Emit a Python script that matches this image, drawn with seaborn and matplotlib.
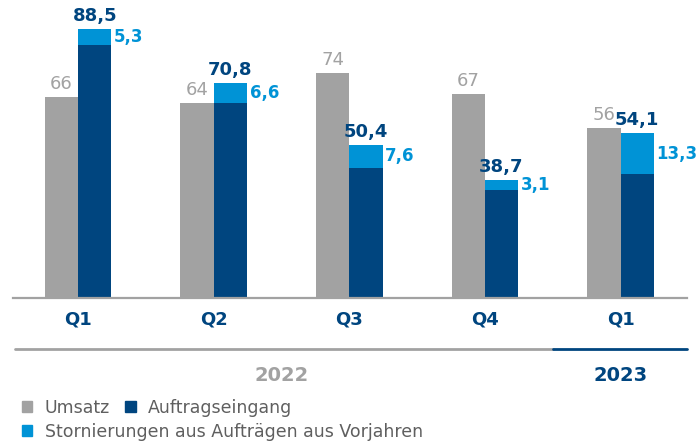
import pandas as pd
import matplotlib
matplotlib.use("Agg")
import matplotlib.pyplot as plt
import matplotlib.transforms as mtransforms
from matplotlib.patches import Patch
import seaborn as sns

sns.set_style("white")
plt.rcParams['font.family'] = ['DejaVu Sans']

# data
periods = ['Q1 2022', 'Q2 2022', 'Q3 2022', 'Q4 2022', 'Q1 2023']
quarter_labels = ['Q1', 'Q2', 'Q3', 'Q4', 'Q1']
umsatz = [66, 64, 74, 67, 56]
auftrag_total = [88.5, 70.8, 50.4, 38.7, 54.1]
stornierungen = [5.3, 6.6, 7.6, 3.1, 13.3]
years = ['2022', '2023']

GRAY = '#a2a2a2'
DARK = '#00457f'
LIGHT = '#0093d6'
LEGEND_TXT = '#5f5f5f'


def fmt(v):
    return f"{v:.1f}".replace('.', ',')


auftrag_only = [t - s for t, s in zip(auftrag_total, stornierungen)]

df_total = pd.DataFrame({
    'period': periods * 2,
    'kind': ['Umsatz'] * 5 + ['Auftrag'] * 5,
    'value': umsatz + auftrag_total,
})
df_dark = pd.DataFrame({
    'period': periods * 2,
    'kind': ['Umsatz'] * 5 + ['Auftrag'] * 5,
    'value': umsatz + auftrag_only,
})

fig = plt.figure(figsize=(6.99, 4.44), dpi=100)
ax = fig.add_axes([13 / 699, 146 / 444, 674 / 699, 298 / 444])

# light blue = whole order intake, dark blue drawn over it
sns.barplot(data=df_total, x='period', y='value', hue='kind', order=periods,
            hue_order=['Umsatz', 'Auftrag'], palette={'Umsatz': GRAY, 'Auftrag': LIGHT},
            width=0.49, gap=0, legend=False, ax=ax, saturation=1, linewidth=0)
sns.barplot(data=df_dark, x='period', y='value', hue='kind', order=periods,
            hue_order=['Umsatz', 'Auftrag'], palette={'Umsatz': GRAY, 'Auftrag': DARK},
            width=0.49, gap=0, legend=False, ax=ax, saturation=1, linewidth=0)

ax.set_xlim(-0.48, 4.49)
ax.set_ylim(0, 98)
ax.set_xlabel('')
ax.set_ylabel('')
ax.set_yticks([])
ax.set_xticks(range(len(periods)))
ax.set_xticklabels(quarter_labels, fontsize=13, fontweight='bold', color=DARK)
ax.tick_params(axis='x', length=0, pad=9)
for s in ['top', 'right', 'left']:
    ax.spines[s].set_visible(False)
ax.spines['bottom'].set_color(GRAY)
ax.spines['bottom'].set_linewidth(1.6)

# value labels
ax.bar_label(ax.containers[0], labels=[str(v) for v in umsatz], padding=3,
             fontsize=13, color=GRAY)
ax.bar_label(ax.containers[1], labels=[fmt(v) for v in auftrag_total], padding=3,
             fontsize=13, fontweight='bold', color=DARK)
for p, dark, st in zip(ax.containers[1], auftrag_only, stornierungen):
    ax.annotate(fmt(st), (p.get_x() + p.get_width(), dark + st / 2),
                xytext=(2, 0), textcoords='offset points', ha='left', va='center',
                fontsize=12, fontweight='bold', color=LIGHT)

# year separator lines and labels
trans = mtransforms.blended_transform_factory(ax.transData, ax.transAxes)
ax.plot([-0.465, 3.5], [-0.17, -0.17], transform=trans, clip_on=False, color=GRAY, lw=2)
ax.plot([3.5, 4.49], [-0.17, -0.17], transform=trans, clip_on=False, color=DARK, lw=2)
ax.text(1.5, -0.26, years[0], transform=trans, ha='center', va='center',
        fontsize=14, fontweight='bold', color=GRAY)
ax.text(4.0, -0.26, years[1], transform=trans, ha='center', va='center',
        fontsize=14, fontweight='bold', color=DARK)

# legend
leg_kw = dict(frameon=False, fontsize=12.5, handlelength=0.6, handleheight=0.6,
              handletextpad=0.7, columnspacing=0.9, borderpad=0, borderaxespad=0,
              labelcolor=LEGEND_TXT, loc='center left')
fig.legend(handles=[Patch(color=GRAY, label='Umsatz'), Patch(color=DARK, label='Auftragseingang')],
           ncol=2, bbox_to_anchor=(22 / 699, 36 / 444), **leg_kw)
fig.legend(handles=[Patch(color=LIGHT, label='Stornierungen aus Aufträgen aus Vorjahren')],
           bbox_to_anchor=(22 / 699, 12 / 444), **leg_kw)

fig.savefig('out.png', dpi=100)
